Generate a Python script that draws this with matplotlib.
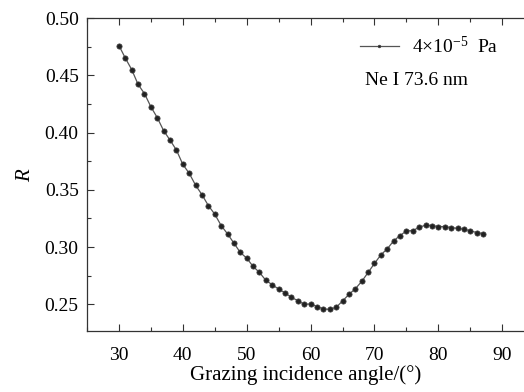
import matplotlib
matplotlib.use('Agg')
import matplotlib.pyplot as plt
from matplotlib.ticker import MultipleLocator

plt.rcParams['font.family'] = 'Liberation Serif'
plt.rcParams['mathtext.fontset'] = 'custom'
plt.rcParams['mathtext.rm'] = 'Liberation Serif'
plt.rcParams['mathtext.it'] = 'Liberation Serif:italic'

# grazing angle (deg) and reflectance
angle = list(range(30, 88))
reflect = [0.476, 0.465, 0.455, 0.442, 0.434, 0.4225, 0.413, 0.4016, 0.3934, 0.3847,
           0.3722, 0.3644, 0.354, 0.3457, 0.3362, 0.3287, 0.3188, 0.3115, 0.3034, 0.2953,
           0.2903, 0.2831, 0.2778, 0.2709, 0.2671, 0.2633, 0.2600, 0.2561, 0.2532, 0.2500,
           0.2504, 0.2480, 0.2460, 0.2456, 0.2474, 0.2529, 0.2587, 0.2636, 0.2700, 0.2778,
           0.2857, 0.2932, 0.2985, 0.3054, 0.3101, 0.3141, 0.3144, 0.3173, 0.3191, 0.3188,
           0.3179, 0.3179, 0.3170, 0.3164, 0.3156, 0.3141, 0.3127, 0.3118]

series_label = '4×10$^{-5}$  Pa'
note = 'Ne I 73.6 nm'

fig = plt.figure(figsize=(5.24, 3.92), dpi=100)
ax = fig.add_axes([0.166, 0.155, 0.834, 0.799])

ax.plot(angle, reflect, color='#555555', lw=0.9, marker='o', ms=3.8,
        mfc='#222222', mec='#444444', mew=0.5, label=series_label)

ax.set_xlim(25, 93.4)
ax.set_ylim(0.2265, 0.50)
ax.xaxis.set_major_locator(MultipleLocator(10))
ax.xaxis.set_minor_locator(MultipleLocator(5))
ax.yaxis.set_major_locator(MultipleLocator(0.05))
ax.yaxis.set_minor_locator(MultipleLocator(0.025))
ax.yaxis.set_major_formatter(matplotlib.ticker.FormatStrFormatter('%.2f'))
ax.tick_params(which='both', direction='in', top=True, right=False,
               labelsize=14, color='#333333', width=0.8)
ax.tick_params(which='major', length=5, pad=6)
ax.tick_params(which='minor', length=3)
ax.tick_params(axis='x', which='major', pad=11)
ax.spines['right'].set_visible(False)
for s in ['left', 'bottom', 'top']:
    ax.spines[s].set_color('#333333')
    ax.spines[s].set_linewidth(0.9)

ax.set_xlabel('Grazing incidence angle/(°)', fontsize=15, labelpad=1)
ax.set_ylabel('$R$', fontsize=15, labelpad=7)

ax.legend(loc='upper right', bbox_to_anchor=(0.982, 1.0), frameon=False,
          fontsize=14, handlelength=2.0, handletextpad=0.7, markerscale=0.5)
ax.text(0.637, 0.80, note, transform=ax.transAxes, fontsize=14,
        ha='left', va='center')

fig.savefig('out.png', dpi=100)
